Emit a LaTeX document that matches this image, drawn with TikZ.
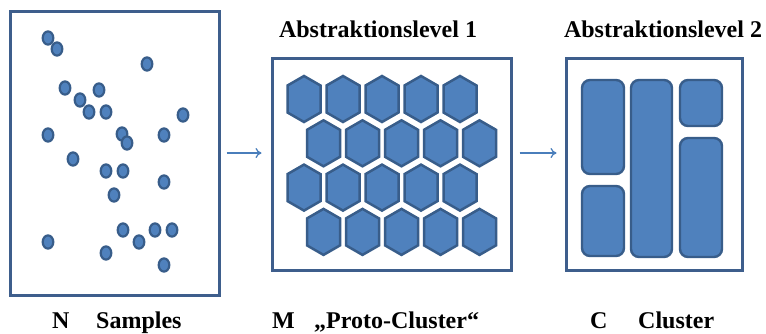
\documentclass[tikz,border=0pt]{standalone}
\usepackage{fontspec}
\setmainfont{Liberation Serif}
\usetikzlibrary{calc,arrows.meta}
\definecolor{cfill}{HTML}{4F81BD}
\definecolor{cline}{HTML}{385D8A}
\definecolor{cbox}{HTML}{3E5E8C}
\definecolor{carrow}{HTML}{4A7EBB}
\tikzset{
  panel/.style={draw=cbox, line width=3pt, fill=white, inner sep=0pt},
  dot/.style={fill=cfill, draw=cline, line width=2.2pt},
  hexa/.style={fill=cfill, draw=cline, line width=2.5pt, line join=miter},
  blob/.style={fill=cfill, draw=cline, line width=2.4pt, rounded corners=8pt},
  arr/.style={draw=carrow, line width=1.3pt, -{To[length=6pt,width=10pt]}},
  title/.style={font=\fontsize{24}{28}\selectfont\bfseries, anchor=base, inner sep=0pt},
  lab/.style={font=\fontsize{24}{28}\selectfont\bfseries, anchor=base west, inner sep=0pt}
}
\begin{document}
\begin{tikzpicture}[x=1pt,y=-1pt]
\useasboundingbox (0,0) rectangle (766,333);
% panels
\node[panel, minimum width=209pt, minimum height=284pt] (b1) at (114.5,153) {};
\node[panel, minimum width=239pt, minimum height=212pt] (b2) at (391.5,164) {};
\node[panel, minimum width=176pt, minimum height=212pt] (b3) at (654,164) {};
% dots
\foreach \x/\y in {48/38,57/49,147/64,65/88,99/90,80/100,89/112,106/112,183/115,
  48/135,122/134,127/143,164/135,73/159,106/171,123/171,164/182,114/195,
  123/230,155/230,172/230,48/242,139/242,106/253,164/265}
  \draw[dot] (\x,\y) ellipse [x radius=5.3pt, y radius=6.6pt];
% hexagons
\foreach \j in {0,1,2,3}{
  \pgfmathsetmacro{\yy}{99+44.3*\j}
  \pgfmathsetmacro{\xo}{mod(\j,2)==0 ? 304 : 323.5}
  \foreach \i in {0,...,4}{
    \pgfmathsetmacro{\xx}{\xo+39*\i}
    \draw[hexa] (\xx,\yy-23) -- (\xx+16.5,\yy-13.5) -- (\xx+16.5,\yy+13.5)
      -- (\xx,\yy+23) -- (\xx-16.5,\yy+13.5) -- (\xx-16.5,\yy-13.5) -- cycle;
  }
}
% clusters
\draw[blob] (582,80) rectangle (624,174);
\draw[blob] (582,186) rectangle (624,256);
\draw[blob] (631,80) rectangle (672,257);
\draw[blob] (680,80) rectangle (722,126);
\draw[blob] (680,138) rectangle (722,257);
% arrows
\draw[arr, shorten <=6pt, shorten >=9pt] (b1.east) -- (b1.east -| b2.west);
\draw[arr, shorten <=7pt, shorten >=8pt] (b2.east |- b1.east) -- (b3.west |- b1.east);
% titles
\node[title] (t1) at (378,37) {Abstraktionslevel 1};
\node[title] (t2) at (663,37) {Abstraktionslevel 2};
% labels
\node[lab] (n1) at (52,328) {N};
\node[lab] (s1) at (96,328) {Samples};
\node[lab] (n2) at (272,328) {M};
\node[lab] (s2) at (314,328) {„Proto-Cluster“};
\node[lab] (n3) at (590,328) {C};
\node[lab] (s3) at (638,328) {Cluster};
\end{tikzpicture}
\end{document}
